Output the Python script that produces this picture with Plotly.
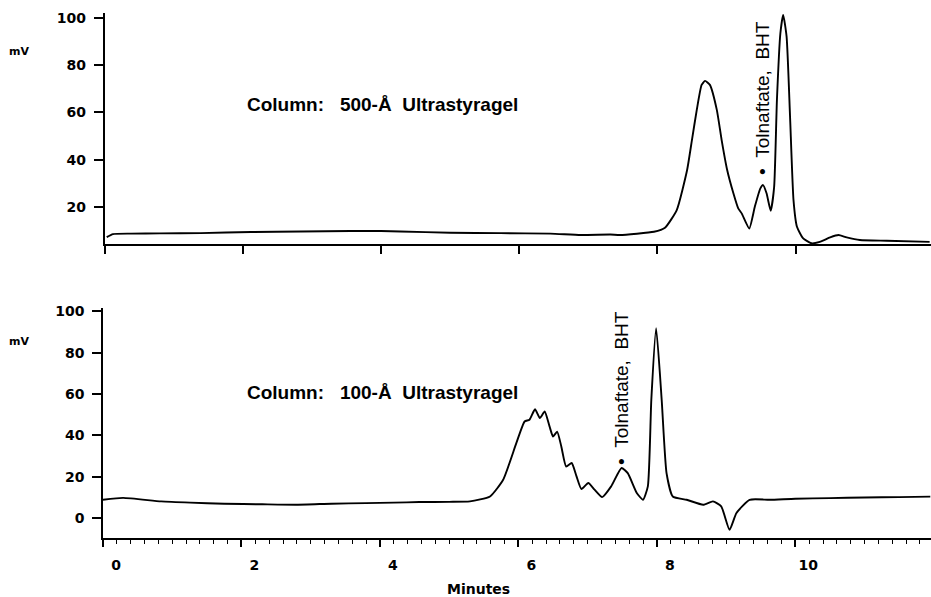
import plotly.graph_objects as go

# ---- data (minutes, mV) ----
top_t = [0.03, 0.12, 0.38, 0.8, 1.39, 2.12, 2.84, 3.56, 4.0, 4.28, 5.0, 5.73, 6.45, 6.89, 7.32,
         7.46, 7.95, 8.11, 8.28, 8.43, 8.50, 8.57, 8.64, 8.69, 8.76, 8.86, 8.93, 9.01, 9.10,
         9.17, 9.22, 9.33, 9.41, 9.49, 9.53, 9.58, 9.64, 9.69, 9.73, 9.78, 9.82, 9.87, 9.92,
         9.97, 10.02, 10.11, 10.23, 10.35, 10.50, 10.62, 10.74, 10.93, 11.32, 11.94]
top_mv = [7.1, 8.4, 8.6, 8.7, 8.8, 9.3, 9.5, 9.7, 9.7, 9.5, 9.0, 8.8, 8.6, 8.0, 8.2,
          8.0, 9.4, 11.1, 18.6, 35.6, 48.3, 61.1, 71.7, 73.4, 71.7, 61.1, 48.3, 35.6, 25.7,
          19.3, 17.2, 10.8, 20.0, 27.8, 29.2, 25.7, 18.3, 28.5, 65.3, 93.6, 101.4, 92.2, 58.2,
          22.8, 11.5, 6.6, 4.5, 5.1, 7.0, 8.0, 7.0, 5.9, 5.6, 5.1]

bot_t = [0.0, 0.29, 0.84, 1.26, 1.75, 2.3, 2.8, 3.3, 3.8, 4.2, 4.57, 5.0, 5.30, 5.59, 5.78,
         5.97, 6.09, 6.16, 6.24, 6.31, 6.38, 6.45, 6.50, 6.56, 6.62, 6.69, 6.77, 6.84, 6.91,
         7.01, 7.10, 7.21, 7.34, 7.49, 7.58, 7.71, 7.80, 7.87, 7.92, 7.99, 8.07, 8.14, 8.23,
         8.43, 8.67, 8.81, 8.93, 9.05, 9.15, 9.34, 9.63, 10.0, 10.5, 11.0, 11.5, 11.95]
bot_mv = [8.8, 9.7, 8.0, 7.4, 6.9, 6.6, 6.4, 6.9, 7.2, 7.4, 7.7, 7.8, 8.0, 10.4, 18.5,
          36.2, 46.7, 47.5, 52.6, 48.3, 51.5, 44.3, 39.4, 41.8, 34.6, 24.9, 26.6, 20.1, 14.0,
          16.9, 13.7, 10.1, 15.3, 24.2, 21.7, 12.1, 8.8, 15.3, 57.1, 91.8, 57.1, 21.7, 10.4,
          8.8, 6.4, 8.0, 5.6, -5.7, 2.4, 8.8, 8.8, 9.3, 9.6, 9.9, 10.1, 10.3]

top_yticks = [20, 40, 60, 80, 100]
bot_yticks = [0, 20, 40, 60, 80, 100]
x_ticks = [0, 2, 4, 6, 8, 10]

# ---- layout geometry helpers (pixels -> paper) ----
W, H = 931, 597
ML, MR, MT, MB = 103, 0, 13, 59
PW, PH = W - ML - MR, H - MT - MB


def px(x):
    return (x - ML) / PW


def py(y):
    return 1 - (y - MT) / PH


fig = go.Figure()
line = dict(color="black", width=1.9, shape="spline", smoothing=0.5)
fig.add_trace(go.Scatter(x=top_t, y=top_mv, mode="lines", line=line, xaxis="x", yaxis="y",
                         showlegend=False, hoverinfo="skip"))
fig.add_trace(go.Scatter(x=bot_t, y=bot_mv, mode="lines", line=line, xaxis="x2", yaxis="y2",
                         showlegend=False, hoverinfo="skip"))

tickfont = dict(family="DejaVu Sans", size=14, color="black", weight="bold")
axis_common = dict(showline=True, linecolor="black", linewidth=1.5, showgrid=False,
                   zeroline=False, ticks="outside", tickcolor="black", tickwidth=1.5)

fig.update_layout(
    width=W, height=H,
    margin=dict(l=ML, r=MR, t=MT, b=MB),
    paper_bgcolor="white", plot_bgcolor="white",
    xaxis=dict(domain=[0.002, 1], anchor="y", range=[0, 11.96], tickvals=x_ticks,
               showticklabels=False, ticklen=8, **axis_common),
    yaxis=dict(domain=[py(244), 1], anchor="x", range=[4.2, 102.2], tickvals=top_yticks,
               ticklen=9, tickfont=tickfont, ticklabelstandoff=5, **axis_common),
    xaxis2=dict(domain=[0, 1], anchor="y2", range=[0, 11.96], tickvals=x_ticks,
                ticklen=7, tickfont=tickfont, ticklabelshift=13, ticklabelstandoff=6,
                minor=dict(dtick=0.2, tick0=0, ticks="outside", ticklen=4,
                           tickcolor="black", tickwidth=1.2),
                **axis_common),
    yaxis2=dict(domain=[0, py(308)], anchor="x2", range=[-9.7, 101.6], tickvals=bot_yticks,
                ticklen=9, tickfont=tickfont, ticklabelstandoff=5, **axis_common),
)

nb = "\u00a0"
ann_font = dict(family="Liberation Sans", size=19, color="black", weight="bold")
rot_font = dict(family="Liberation Sans", size=19, color="black")
small_bold = dict(family="DejaVu Sans", size=11, color="black", weight="bold")

annotations = [
    dict(x=px(245), y=py(105), text="Column:" + nb * 3 + "500-Å" + nb * 2 + "Ultrastyragel",
         font=ann_font, xanchor="left", yanchor="middle"),
    dict(x=px(245), y=py(392), text="Column:" + nb * 3 + "100-Å" + nb * 2 + "Ultrastyragel",
         font=ann_font, xanchor="left", yanchor="middle"),
    dict(x=px(763), y=py(98), text="•" + nb * 2 + "Tolnaftate," + nb * 2 + "BHT",
         font=rot_font, textangle=-90, xanchor="center", yanchor="middle"),
    dict(x=px(621), y=py(388), text="•" + nb * 2 + "Tolnaftate," + nb * 2 + "BHT",
         font=rot_font, textangle=-90, xanchor="center", yanchor="middle"),
    dict(x=px(19), y=py(51), text="mV", font=small_bold, xanchor="center", yanchor="middle"),
    dict(x=px(19), y=py(341), text="mV", font=small_bold, xanchor="center", yanchor="middle"),
    dict(x=px(478), y=py(589), text="Minutes", font=dict(family="DejaVu Sans", size=14,
                                                          color="black", weight="bold"),
         xanchor="center", yanchor="middle"),
]
for a in annotations:
    a.update(xref="paper", yref="paper", showarrow=False)
fig.update_layout(annotations=annotations)

fig.write_html("out.html", config={"displayModeBar": False},
               post_script="document.body.style.margin='0';document.body.style.overflow='hidden';")
